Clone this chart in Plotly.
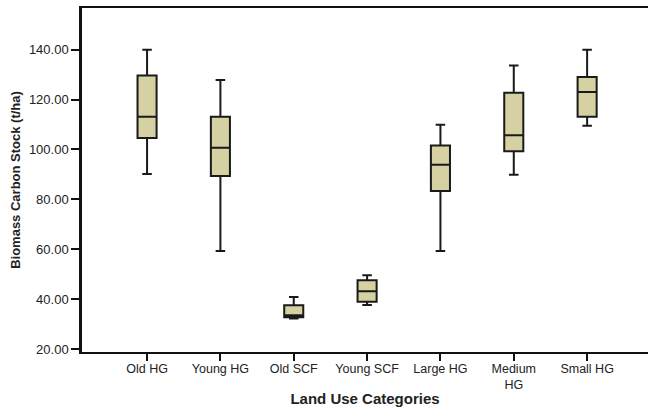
import plotly.graph_objects as go

categories = ["Old HG", "Young HG", "Old SCF", "Young SCF", "Large HG", "Medium<br>HG", "Small HG"]
upper_whisker = [140.0, 127.8, 40.8, 49.6, 109.9, 133.6, 140.0]
q3_values = [129.6, 113.1, 37.5, 47.6, 101.6, 122.7, 129.0]
median_values = [113.1, 100.7, 33.5, 43.2, 93.9, 105.7, 123.0]
q1_values = [104.6, 89.4, 32.7, 38.9, 83.3, 99.3, 113.1]
lower_whisker = [90.2, 59.3, 32.2, 37.6, 59.3, 89.9, 109.5]
y_ticks = [20, 40, 60, 80, 100, 120, 140]

fig = go.Figure()
fig.add_trace(go.Box(
    x=categories,
    q1=q1_values,
    median=median_values,
    q3=q3_values,
    lowerfence=lower_whisker,
    upperfence=upper_whisker,
    boxpoints=False,
    fillcolor="#D6D1A2",
    line=dict(color="#1a1a1a", width=2),
    width=0.26,
    whiskerwidth=0.5,
    showlegend=False,
    hoverinfo="skip",
))

font_family = "Liberation Sans, Arial, sans-serif"
fig.update_layout(
    width=648, height=410,
    margin=dict(l=82, r=0, t=8, b=58),
    paper_bgcolor="white",
    plot_bgcolor="white",
    font=dict(family=font_family, color="#222"),
    xaxis=dict(
        type="category",
        range=[-0.887, 6.83],
        showline=True, mirror=True, linecolor="#111", linewidth=2,
        ticks="outside", ticklen=7, tickwidth=2, tickcolor="#111",
        ticklabelstandoff=-3,
        showgrid=False, zeroline=False,
        tickfont=dict(size=12.5, family=font_family, color="#222"),
        title=dict(text="<b>Land Use Categories</b>", font=dict(size=15, family=font_family, color="#222"), standoff=2),
    ),
    yaxis=dict(
        range=[18.8, 156.7],
        tickvals=y_ticks,
        tickformat=".2f",
        showline=True, mirror=False, linecolor="#111", linewidth=2.5,
        ticks="outside", ticklen=8, tickwidth=2, tickcolor="#111",
        showgrid=False, zeroline=False,
        tickfont=dict(size=13, family=font_family, color="#222"),
        title=dict(text="<b>Biomass Carbon Stock (t/ha)</b>", font=dict(size=13, family=font_family, color="#222"), standoff=6),
    ),
)

fig.write_html("out.html")
